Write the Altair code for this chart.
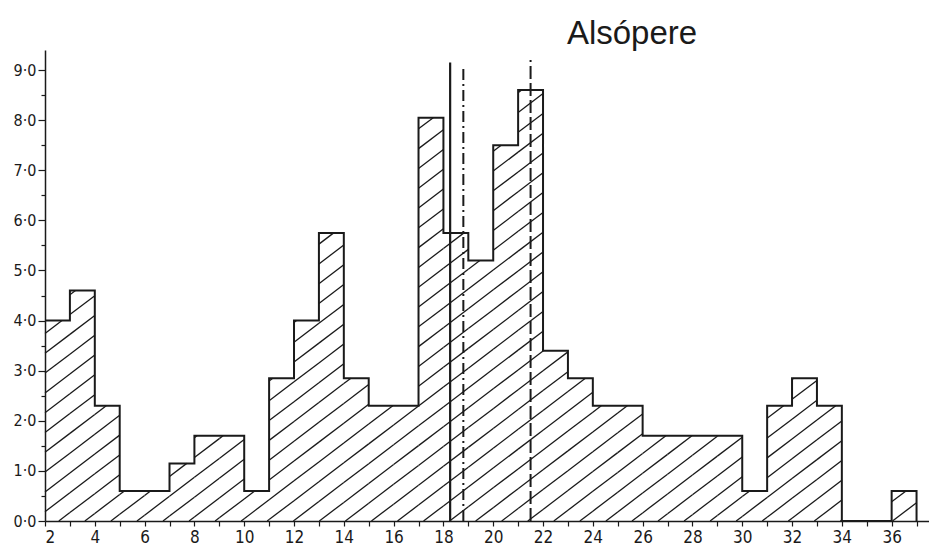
import math
import altair as alt
import pandas as pd

# ---- data ----
title_text = "Alsópere"
bin_starts = list(range(2, 37))
heights = [4.0, 4.6, 2.3, 0.6, 0.6, 1.15, 1.7, 1.7, 0.6, 2.85,
           4.0, 5.75, 2.85, 2.3, 2.3, 8.05, 5.75, 5.2, 7.5, 8.6,
           3.4, 2.85, 2.3, 2.3, 1.7, 1.7, 1.7, 1.7, 0.6, 2.3,
           2.85, 2.3, 0.0, 0.0, 0.6]
x_ticks = list(range(2, 38))
y_ticks = [i / 2 for i in range(0, 19)]
solid_x, solid_top = 18.27, 9.15
dashdot_x, dashdot_top = 18.8, 9.02
dashed_x, dashed_top = 21.5, 9.2

X_DOMAIN = [2, 37.5]
Y_DOMAIN = [0, 9.4]
W, H = 884, 471

ink = "#1a1a1a"
label_font = "DejaVu Sans Condensed, DejaVu Sans"

xs = alt.Scale(domain=X_DOMAIN, nice=False, zero=False)
ys = alt.Scale(domain=Y_DOMAIN, nice=False)

x_axis = alt.Axis(values=x_ticks, title=None, tickSize=5, labelPadding=3,
                  labelFont=label_font, labelFontSize=17, labelColor=ink,
                  domainColor=ink, domainWidth=1.5, tickColor=ink, tickWidth=1.2,
                  grid=False,
                  labelExpr="datum.value % 2 == 0 ? datum.label : ''")
y_axis = alt.Axis(values=y_ticks, title=None,
                  tickSize={"expr": "datum.value % 1 == 0 ? 7 : 4"},
                  labelPadding=2,
                  labelFont=label_font, labelFontSize=16, labelColor=ink,
                  domainColor=ink, domainWidth=1.5, tickColor=ink, tickWidth=1.2,
                  grid=False,
                  labelExpr="datum.value % 1 == 0 ? replace(format(datum.value, '.1f'), '.', '·') : ''")

# step outline
outline = pd.DataFrame({"x": bin_starts + [37], "y": heights + [0.0]})

# hatch segments derived from the bars (pixel-space diagonal lines)
sx = W / (X_DOMAIN[1] - X_DOMAIN[0])
sy = H / (Y_DOMAIN[1] - Y_DOMAIN[0])
m = 0.76
sp = 19.8
phase = 9.3
segs = []
for a, h in zip(bin_starts, heights):
    if h <= 0:
        continue
    ua = (a - 2) * sx
    ub = ua + sx
    Hp = h * sy
    kmin = math.ceil((-m * ub - phase) / sp)
    kmax = math.floor((Hp - m * ua - phase) / sp)
    for k in range(kmin, kmax + 1):
        c = k * sp + phase
        u0 = max(ua, -c / m)
        u1 = min(ub, (Hp - c) / m)
        if u1 - u0 > 0.3:
            segs.append({"x": 2 + u0 / sx, "y": (m * u0 + c) / sy,
                         "x2": 2 + u1 / sx, "y2": (m * u1 + c) / sy})
hatch = pd.DataFrame(segs)

outline_layer = alt.Chart(outline).mark_line(
    interpolate="step-after", color=ink, strokeWidth=2
).encode(
    x=alt.X("x:Q", scale=xs, axis=x_axis),
    y=alt.Y("y:Q", scale=ys, axis=y_axis),
)

hatch_layer = alt.Chart(hatch).mark_rule(color=ink, strokeWidth=1.3).encode(
    x=alt.X("x:Q", scale=xs, axis=x_axis),
    y=alt.Y("y:Q", scale=ys, axis=y_axis),
    x2="x2:Q", y2="y2:Q",
)

def vline(xv, top, dash, width):
    df = pd.DataFrame({"x": [xv], "y": [0.0], "y2": [top]})
    kw = dict(color=ink, strokeWidth=width)
    if dash:
        kw["strokeDash"] = dash
    return alt.Chart(df).mark_rule(**kw).encode(
        x=alt.X("x:Q", scale=xs, axis=x_axis),
        y=alt.Y("y:Q", scale=ys, axis=y_axis),
        y2="y2:Q",
    )

v1 = vline(solid_x, solid_top, None, 2.2)
v2 = vline(dashdot_x, dashdot_top, [11, 4, 2, 4], 2.0)
v3 = vline(dashed_x, dashed_top, [13, 4], 2.0)

title_layer = alt.Chart(alt.Data(values=[{"t": title_text}])).mark_text(
    font="Liberation Sans", fontSize=33, color=ink, align="center",
    baseline="alphabetic"
).encode(text="t:N", x=alt.value(587), y=alt.value(-6))

chart = alt.layer(outline_layer, hatch_layer, v1, v2, v3, title_layer).properties(
    width=W, height=H,
    autosize=alt.AutoSizeParams(type="none"),
    padding={"left": 37, "top": 42, "right": 0, "bottom": 25},
).configure_view(stroke=None)

chart.save("out.html", embed_options={"renderer": "svg", "actions": False})
